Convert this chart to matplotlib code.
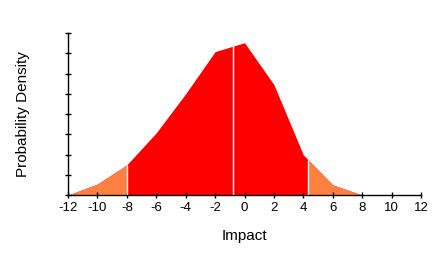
import numpy as np
import matplotlib
matplotlib.use('Agg')
from matplotlib import pyplot as plt

# %% -----------------------------------------------------------------------------------------------
# data

impact = [-12, -10, -8, -6, -4, -2, 0, 2, 4, 6, 8]
density = [0, 0.54, 1.49, 3.07, 5.0, 7.08, 7.52, 5.45, 1.98, 0.5, 0]
# white split lines
splits = [-8, -0.8, 4.33]
x_ticks = list(range(-12, 13, 2))

red = '#FF0000'
orange = '#FF8040'

# %% -----------------------------------------------------------------------------------------------
# figure

plt.rcParams['font.family'] = ['Liberation Sans', 'DejaVu Sans']

fig = plt.figure(figsize=[4.46, 2.57], dpi=100)
ax = fig.add_axes([68/446, 62/257, 353/446, 162/257])

# fine x so the split points land on the curve
xx = np.union1d(np.array(impact, dtype=float), np.array(splits))
yy = np.interp(xx, impact, density)

ax.fill_between(xx, yy, color=red, lw=0)
ax.fill_between(xx, yy, where=xx <= splits[0], color=orange, lw=0)
ax.fill_between(xx, yy, where=xx >= splits[2], color=orange, lw=0)
ax.vlines(splits, 0, np.interp(splits, impact, density), color='white', lw=1)

ax.set_xlim(-12, 12)
ax.set_ylim(0, 8)
ax.set_xticks(x_ticks)
ax.set_xticklabels([str(t) for t in x_ticks], fontsize=9.5)
ax.set_yticks(range(0, 9))
ax.set_yticklabels([])
ax.tick_params(direction='inout', length=4, width=1, color='black', pad=3)
for s in ['top', 'right']:
    ax.spines[s].set_visible(False)
for s in ['left', 'bottom']:
    ax.spines[s].set_linewidth(1)

ax.set_xlabel('Impact', fontsize=11, labelpad=11)
ax.set_ylabel('Probability Density', fontsize=11, labelpad=22)

fig.savefig('out.png', dpi=100)
